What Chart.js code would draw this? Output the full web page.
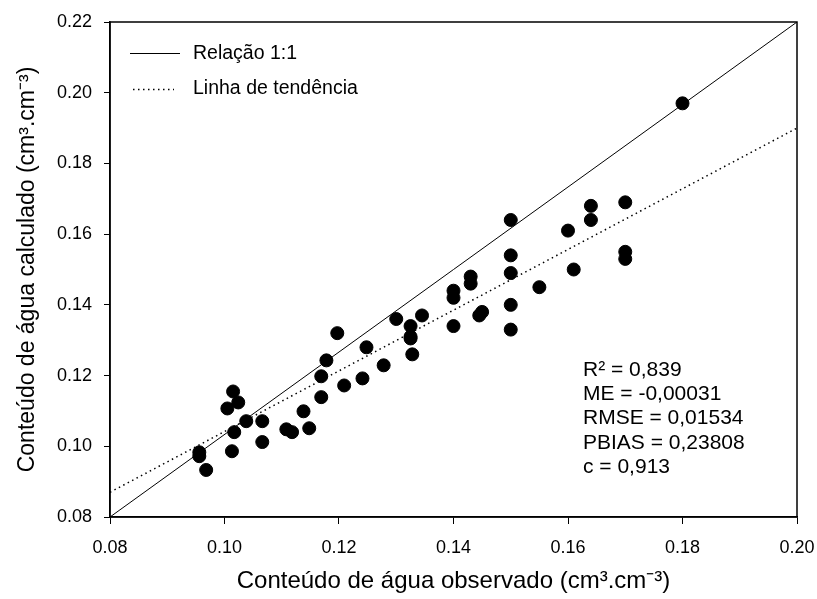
<!DOCTYPE html>
<html>
<head>
<meta charset="utf-8">
<script src="https://cdn.jsdelivr.net/npm/chart.js@4.4.1/dist/chart.umd.min.js"></script>
<style>
    html, body { margin: 0; padding: 0; background: #fff; }
    #wrap { width: 817px; height: 599px; }
</style>
</head>
<body>
<div id="wrap"><canvas id="scatterChart" width="817" height="599"></canvas></div>
<script>
// observed vs calculated water content (cm3.cm-3)
const observed = [
    0.180, 0.170, 0.164, 0.164, 0.160, 0.161, 0.170, 0.170,
    0.150, 0.150, 0.150, 0.150, 0.150, 0.155, 0.143, 0.143,
    0.140, 0.140, 0.140, 0.145, 0.1445, 0.1345, 0.1325, 0.1325,
    0.1325, 0.1328, 0.130, 0.1197, 0.1248, 0.1178, 0.1169, 0.1278,
    0.1241, 0.1209, 0.1169, 0.1138, 0.1148, 0.1108, 0.1118, 0.1066,
    0.1066, 0.1038, 0.1015, 0.1024, 0.1005, 0.1017, 0.1013, 0.0956,
    0.0956, 0.0968
];
const calculated = [
    0.197, 0.169, 0.168, 0.164, 0.161, 0.150, 0.155, 0.153,
    0.164, 0.154, 0.149, 0.140, 0.133, 0.145, 0.148, 0.146,
    0.144, 0.142, 0.134, 0.138, 0.137, 0.137, 0.134, 0.131,
    0.1305, 0.126, 0.136, 0.132, 0.128, 0.1243, 0.1198, 0.1229,
    0.1192, 0.1172, 0.1139, 0.1099, 0.1051, 0.1048, 0.104, 0.1071,
    0.1012, 0.1071, 0.1155, 0.1124, 0.1107, 0.104, 0.0986, 0.0983,
    0.0972, 0.0933
];

// reference lines (end points)
const lineOneX = [0.08, 0.20];
const lineOneY = [0.08, 0.22];
const trendX = [0.08, 0.20];
const trendY = [0.087, 0.190];

const xTicks = [0.08, 0.10, 0.12, 0.14, 0.16, 0.18, 0.20];
const yTicks = [0.08, 0.10, 0.12, 0.14, 0.16, 0.18, 0.20, 0.22];

const legendLabels = ['Relação 1:1', 'Linha de tendência'];
const statsLines = ['R² = 0,839', 'ME = -0,00031', 'RMSE = 0,01534', 'PBIAS = 0,23808', 'c = 0,913'];

const FONT = 'Arial, "Liberation Sans", sans-serif';

function toPoints(xs, ys) {
    return xs.map((x, i) => ({ x: x, y: ys[i] }));
}

// frame, legend and statistics box
const extrasPlugin = {
    id: 'extras',
    afterDraw(chart) {
        const ctx = chart.ctx;
        const area = chart.chartArea;
        ctx.save();

        ctx.strokeStyle = '#000';
        ctx.lineWidth = 1.5;
        ctx.strokeRect(area.left, area.top, area.right - area.left, area.bottom - area.top);

        // legend
        ctx.font = '19.5px ' + FONT;
        ctx.fillStyle = '#000';
        ctx.textBaseline = 'middle';
        ctx.textAlign = 'left';

        ctx.lineWidth = 1;
        ctx.setLineDash([]);
        ctx.beginPath();
        ctx.moveTo(130, 53.5);
        ctx.lineTo(180, 53.5);
        ctx.stroke();
        ctx.fillText(legendLabels[0], 193, 54);

        ctx.setLineDash([1.5, 3.5]);
        ctx.lineWidth = 1.5;
        ctx.beginPath();
        ctx.moveTo(133, 89.5);
        ctx.lineTo(174, 89.5);
        ctx.stroke();
        ctx.setLineDash([]);
        ctx.fillText(legendLabels[1], 193, 89);

        // statistics
        ctx.font = '21px ' + FONT;
        statsLines.forEach((t, i) => {
            ctx.fillText(t, 583, 370 + i * 24.3);
        });

        ctx.restore();
    }
};

const chart = new Chart(document.getElementById('scatterChart'), {
    type: 'scatter',
    data: {
        datasets: [
            {
                label: 'Dados',
                data: toPoints(observed, calculated),
                backgroundColor: '#000',
                borderColor: '#000',
                pointRadius: 6.5,
                pointHoverRadius: 6.5,
                order: 0
            },
            {
                label: legendLabels[0],
                type: 'line',
                data: toPoints(lineOneX, lineOneY),
                borderColor: '#000',
                borderWidth: 1,
                pointRadius: 0,
                fill: false,
                order: 1
            },
            {
                label: legendLabels[1],
                type: 'line',
                data: toPoints(trendX, trendY),
                borderColor: '#000',
                borderWidth: 1.5,
                borderDash: [1.5, 3.5],
                pointRadius: 0,
                fill: false,
                order: 2
            }
        ]
    },
    options: {
        responsive: false,
        animation: false,
        devicePixelRatio: 1,
        layout: {
            padding: { top: 22, right: 20, left: 0, bottom: 0 }
        },
        plugins: {
            legend: { display: false },
            tooltip: { enabled: false }
        },
        scales: {
            x: {
                type: 'linear',
                min: 0.08,
                max: 0.20,
                afterBuildTicks: function(scale) {
                    scale.ticks = xTicks.map(v => ({ value: v }));
                },
                afterFit: function(scale) {
                    scale.height = 82;
                    scale.paddingLeft = 0;
                    scale.paddingRight = 0;
                },
                grid: {
                    drawOnChartArea: false,
                    drawTicks: true,
                    tickLength: 7,
                    color: '#000'
                },
                border: { display: true, color: '#000', width: 1.5 },
                ticks: {
                    color: '#000',
                    padding: 13,
                    maxRotation: 0,
                    font: { family: FONT, size: 18 },
                    callback: function(value) {
                        return Number(value).toFixed(2);
                    }
                },
                title: {
                    display: true,
                    text: 'Conteúdo de água observado (cm³.cm⁻³)',
                    color: '#000',
                    font: { family: FONT, size: 24 },
                    padding: { top: 0, bottom: 3 }
                }
            },
            y: {
                type: 'linear',
                min: 0.08,
                max: 0.22,
                afterBuildTicks: function(scale) {
                    scale.ticks = yTicks.map(v => ({ value: v }));
                },
                afterFit: function(scale) {
                    scale.width = 110;
                    scale.paddingTop = 0;
                    scale.paddingBottom = 0;
                },
                grid: {
                    drawOnChartArea: false,
                    drawTicks: true,
                    tickLength: 6,
                    color: '#000'
                },
                border: { display: true, color: '#000', width: 1.5 },
                ticks: {
                    color: '#000',
                    padding: 12,
                    font: { family: FONT, size: 18 },
                    callback: function(value) {
                        return Number(value).toFixed(2);
                    }
                },
                title: {
                    display: true,
                    text: 'Conteúdo de água calculado (cm³.cm⁻³)',
                    color: '#000',
                    font: { family: FONT, size: 23 },
                    padding: { top: 14, bottom: 0 }
                }
            }
        }
    },
    plugins: [extrasPlugin]
});
</script>
</body>
</html>
